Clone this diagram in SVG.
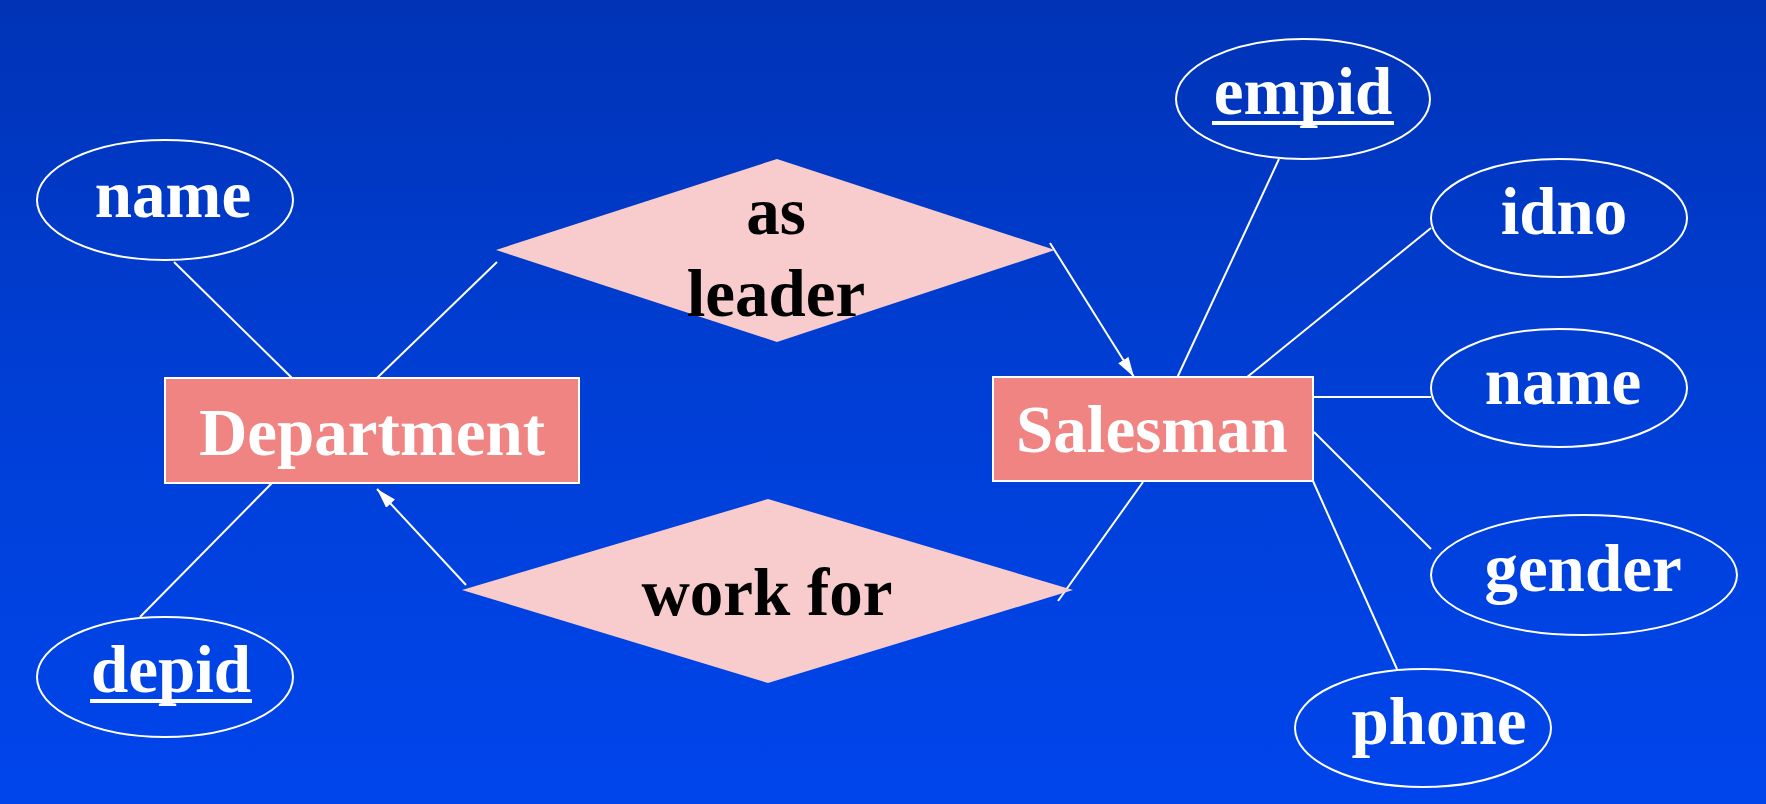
<svg xmlns="http://www.w3.org/2000/svg" width="1766" height="804" viewBox="0 0 1766 804">
<defs>
<linearGradient id="bg" x1="0" y1="0" x2="0" y2="1">
<stop offset="0" stop-color="#0033b6"/>
<stop offset="0.5" stop-color="#003fd6"/>
<stop offset="1" stop-color="#0045ec"/>
</linearGradient>
<marker id="arr" viewBox="0 0 20 12" refX="20" refY="6" markerWidth="20" markerHeight="12" markerUnits="userSpaceOnUse" orient="auto">
<path d="M0,0 L20,6 L0,12 Z" fill="#ffffff"/>
</marker>
<style>
.attr{fill:none;stroke:#ffffff;stroke-width:2}
.ent{fill:#f08482;stroke:#ffffff;stroke-width:2}
.rel{fill:#f8cccc;stroke:none}
.wt{fill:#ffffff;font-family:"Liberation Serif","Times New Roman",serif;font-weight:bold;font-size:67px;text-anchor:middle}
.bt{fill:#000000;font-family:"Liberation Serif","Times New Roman",serif;font-weight:bold;font-size:67px;text-anchor:middle}
.ul{stroke:#ffffff;stroke-width:4}
.conn line{stroke:#ffffff;stroke-width:2}
</style>
</defs>
<rect x="0" y="0" width="1766" height="804" fill="url(#bg)"/>
<g id="connectors" class="conn">
<line x1="174" y1="262" x2="292" y2="378"/>
<line x1="377" y1="378" x2="497" y2="262"/>
<line x1="1050" y1="243" x2="1134" y2="377" marker-end="url(#arr)"/>
<line x1="1279" y1="159" x2="1177" y2="378"/>
<line x1="1431" y1="228" x2="1246" y2="378"/>
<line x1="1313" y1="397" x2="1431" y2="397"/>
<line x1="1314" y1="432" x2="1431" y2="549"/>
<line x1="1313" y1="481" x2="1397" y2="669"/>
<line x1="1143" y1="482" x2="1058" y2="601"/>
<line x1="466" y1="585" x2="377" y2="489" marker-end="url(#arr)"/>
<line x1="140" y1="617" x2="274" y2="481"/>
</g>
<g id="department">
<rect class="ent" x="165" y="378" width="414" height="105"/>
<text class="wt" x="372" y="455">Department</text>
</g>
<g id="salesman">
<rect class="ent" x="993" y="377" width="320" height="104"/>
<text class="wt" x="1152" y="452">Salesman</text>
</g>
<g id="as-leader">
<polygon class="rel" points="496,250 777,159 1055,250 777,342"/>
<text class="bt" x="776" y="234">as</text>
<text class="bt" x="776" y="316">leader</text>
</g>
<g id="work-for">
<polygon class="rel" points="462,590 768,499 1073,590 768,683"/>
<text class="bt" x="767" y="615">work for</text>
</g>
<g id="dept-name">
<ellipse class="attr" cx="165" cy="200" rx="128" ry="60"/>
<text class="wt" x="173" y="217">name</text>
</g>
<g id="dept-depid">
<ellipse class="attr" cx="165" cy="677" rx="128" ry="60"/>
<text class="wt" x="171" y="692">depid</text>
<line class="ul" x1="90" y1="701" x2="252" y2="701"/>
</g>
<g id="sales-empid">
<ellipse class="attr" cx="1303" cy="99" rx="127" ry="60"/>
<text class="wt" x="1303" y="114">empid</text>
<line class="ul" x1="1212" y1="123" x2="1394" y2="123"/>
</g>
<g id="sales-idno">
<ellipse class="attr" cx="1559" cy="218" rx="128" ry="59"/>
<text class="wt" x="1564" y="234">idno</text>
</g>
<g id="sales-name">
<ellipse class="attr" cx="1559" cy="388" rx="128" ry="59"/>
<text class="wt" x="1563" y="404">name</text>
</g>
<g id="sales-gender">
<ellipse class="attr" cx="1584" cy="575" rx="153" ry="60"/>
<text class="wt" x="1583" y="591">gender</text>
</g>
<g id="sales-phone">
<ellipse class="attr" cx="1423" cy="728" rx="128" ry="59"/>
<text class="wt" x="1439" y="744">phone</text>
</g>
</svg>
